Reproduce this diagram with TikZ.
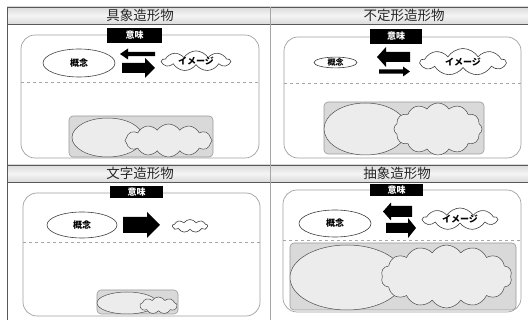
\documentclass[tikz,border=0pt]{standalone}
\usepackage{fontspec}
\setmainfont{Noto Sans CJK JP}
\usetikzlibrary{shapes.geometric,shapes.symbols}
\newcommand\myarrow[6]{\fill[black] (#1,{#3-(#4)}) -- ({#2-(#6)},{#3-(#4)}) -- ({#2-(#6)},{#3-(#5)}) -- (#2,#3) -- ({#2-(#6)},{#3+(#5)}) -- ({#2-(#6)},{#3+(#4)}) -- (#1,{#3+(#4)}) -- cycle;}
\tikzset{
  frame/.style={draw=gray!75, line width=0.7pt, rounded corners=14pt},
  sep/.style={draw=gray!70, dashed, line width=0.6pt},
  keybox/.style={fill=black, text=white, inner sep=0pt, font=\bfseries\fontsize{9}{9}\selectfont},
  concept/.style={ellipse, draw=gray!50!black, fill=white, inner sep=0pt, line width=0.6pt, font=\bfseries\fontsize{9}{9}\selectfont},
  imgcloud/.style={cloud, cloud puffs=9, cloud puff arc=115, cloud ignores aspect, draw=gray!50!black, fill=white, inner sep=0pt, line width=0.6pt, font=\bfseries\fontsize{9}{9}\selectfont},
  graybox/.style={draw=gray!80, fill=gray!30, rounded corners=4pt, line width=0.6pt},
  bigell/.style={ellipse, draw=gray!60!black, fill=gray!15, inner sep=0pt, line width=0.5pt},
  bigcloud/.style={cloud, cloud puffs=12, cloud puff arc=115, cloud ignores aspect, draw=gray!60!black, fill=gray!15, inner sep=0pt, line width=0.5pt},
  header/.style={top color=gray!28, bottom color=gray!28, middle color=gray!8},
  hline/.style={draw=gray!70!black, line width=0.6pt},
  title/.style={font=\fontsize{13.5}{13.5}\selectfont, text=black!85}
}
\begin{document}
\begin{tikzpicture}[x=1pt,y=-1pt]
\useasboundingbox (0,0) rectangle (528,320);
% headers
\shade[header] (7,7) rectangle (528,24);
\draw[hline] (7,7) -- (528,7) (7,24) -- (528,24);
\shade[header] (7,165) rectangle (528,182);
\draw[hline] (7,165) -- (528,165) (7,182) -- (528,182);
\draw[hline] (7,7) -- (7,320);
\draw[draw=gray!70, line width=0.6pt] (270,7) -- (270,320);
\node[title] (t1) at (140,15.5) {具象造形物};
\node[title] (t2) at (404,15.5) {不定形造形物};
\node[title] (t3) at (140,173.5) {文字造形物};
\node[title] (t4) at (397,173.5) {抽象造形物};

% ---------- top-left ----------
\draw[frame] (21,35) rectangle (259,158);
\draw[sep] (21,82) -- (259,82);
\node[keybox, minimum width=55pt, minimum height=15pt] (k1) at (134.5,35.5) {意味};
\node[concept, minimum width=72pt, minimum height=28pt] (c1) at (79,63) {概念};
\myarrow{155}{120}{54}{2.2}{5.5}{-8}
\myarrow{122}{155}{68}{5}{10}{10}
\node[imgcloud, minimum width=68pt, minimum height=17pt] (i1) at (196,61) {イメージ};
\draw[graybox] (69,116) rectangle (213,157);
\node[bigell, minimum width=71pt, minimum height=39pt] (e1) at (107.5,137.5) {};
\node[bigcloud, minimum width=87pt, minimum height=33pt] (b1) at (168.5,140.5) {};

% ---------- top-right ----------
\draw[frame] (284,37) rectangle (521,158);
\draw[sep] (284,83) -- (521,83);
\node[keybox, minimum width=52pt, minimum height=15pt] (k2) at (396,36.5) {意味};
\node[concept, minimum width=43pt, minimum height=10pt, font=\bfseries\fontsize{8}{8}\selectfont] (c2) at (335.5,62.5) {概念};
\myarrow{410}{377}{57}{5}{10}{-9}
\myarrow{379}{410}{71.5}{2.2}{5}{7}
\node[imgcloud, minimum width=85pt, minimum height=27pt] (i2) at (463,62) {イメージ};
\draw[graybox] (324,102) rectangle (484,154);
\node[bigell, minimum width=83pt, minimum height=52pt] (e2) at (365.5,129) {};
\node[bigcloud, minimum width=88pt, minimum height=52pt] (b2) at (438,129) {};

% ---------- bottom-left ----------
\draw[frame] (23,193) rectangle (260,316);
\draw[sep] (23,242) -- (260,242);
\node[keybox, minimum width=53pt, minimum height=12pt] (k3) at (136.5,192.5) {意味};
\node[concept, minimum width=70pt, minimum height=26pt] (c3) at (82,225) {概念};
\myarrow{123}{160}{225}{8}{13}{13}
\node[imgcloud, minimum width=35pt, minimum height=13pt] (i3) at (190,226) {};
\draw[graybox] (97,290) rectangle (178,314);
\node[bigell, minimum width=60pt, minimum height=22pt] (e3) at (127,303) {};
\node[bigcloud, cloud puffs=9, minimum width=37pt, minimum height=17pt] (b3) at (158.5,305.5) {};

% ---------- bottom-right ----------
\draw[frame] (283,190) rectangle (521,312);
\draw[sep] (283,240) -- (521,240);
\node[keybox, minimum width=53pt, minimum height=12pt] (k4) at (396.5,190) {意味};
\node[concept, minimum width=72pt, minimum height=27pt] (c4) at (335,223.5) {概念};
\myarrow{412}{383}{211.5}{5.5}{9}{-8}
\myarrow{386}{416}{228}{5}{10}{8}
\node[imgcloud, minimum width=74pt, minimum height=22pt] (i4) at (460,219) {イメージ};
\draw[graybox] (290,243) rectangle (516,310);
\node[bigell, minimum width=114pt, minimum height=65pt] (e4) at (347,277.5) {};
\node[bigcloud, cloud puffs=14, minimum width=131pt, minimum height=63pt] (b4) at (446.5,276.5) {};
\end{tikzpicture}
\end{document}
